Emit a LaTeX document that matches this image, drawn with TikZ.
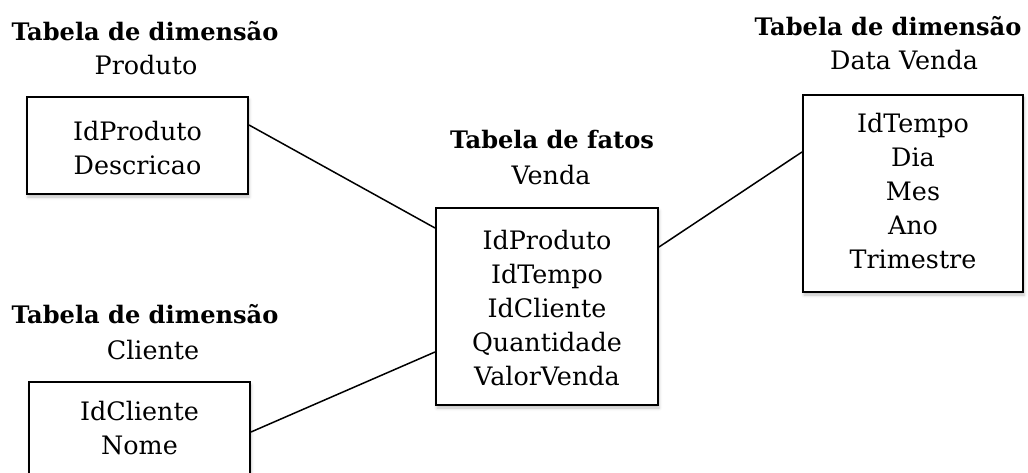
\documentclass[tikz,border=0pt]{standalone}
\usepackage{fontspec}
\setmainfont{DejaVu Serif}
\usetikzlibrary{shadows.blur}
\tikzset{
  tbox/.style={draw, line width=2bp, fill=white, minimum width=#1, inner sep=0pt,
    blur shadow={shadow xshift=1bp, shadow yshift=-3bp, shadow opacity=25, shadow blur radius=3bp}},
  field/.style={align=center, font=\fontsize{25.5}{34}\selectfont, inner sep=0pt},
  ttl/.style={font=\fontsize{24.2}{28}\selectfont\bfseries, inner sep=0pt},
  sub/.style={font=\fontsize{25.5}{30}\selectfont, inner sep=0pt},
  link/.style={line width=1.5bp}
}
\begin{document}
\begin{tikzpicture}[x=1bp,y=-1bp]
\useasboundingbox (0,0) rectangle (1028,473);
% boxes
\node[tbox=221bp, minimum height=97bp] (prod) at (137.5,145.5) {};
\node[tbox=222bp, minimum height=197bp] (venda) at (547,306.5) {};
\node[tbox=220bp, minimum height=197bp] (data) at (913,193.5) {};
\node[tbox=221bp, minimum height=97bp] (cli) at (139.5,430.5) {};
% fields
\node[field] (fprod) at (137.5,148) {IdProduto\\Descricao};
\node[field] (fvenda) at (547,308) {IdProduto\\IdTempo\\IdCliente\\Quantidade\\ValorVenda};
\node[field] (fdata) at (913,191) {IdTempo\\Dia\\Mes\\Ano\\Trimestre};
\node[field] (fcli) at (139.5,428) {IdCliente\\Nome};
% titles
\node[ttl] (tprod) at (145,31) {Tabela de dimensão};
\node[sub] (sprod) at (146,65) {Produto};
\node[ttl] (tvenda) at (552,140) {Tabela de fatos};
\node[sub] (svenda) at (551,175) {Venda};
\node[ttl] (tdata) at (888,26) {Tabela de dimensão};
\node[sub] (sdata) at (904,60) {Data Venda};
\node[ttl] (tcli) at (145,314) {Tabela de dimensão};
\node[sub] (scli) at (153,350) {Cliente};
% connectors
\draw[link] ([yshift=20.5bp]prod.east) -- ([yshift=78.5bp]venda.west);
\draw[link] ([yshift=59.5bp]venda.east) -- ([yshift=41.5bp]data.west);
\draw[link] ([yshift=-1.5bp]cli.east) -- ([yshift=-45.5bp]venda.west);
\end{tikzpicture}
\end{document}
